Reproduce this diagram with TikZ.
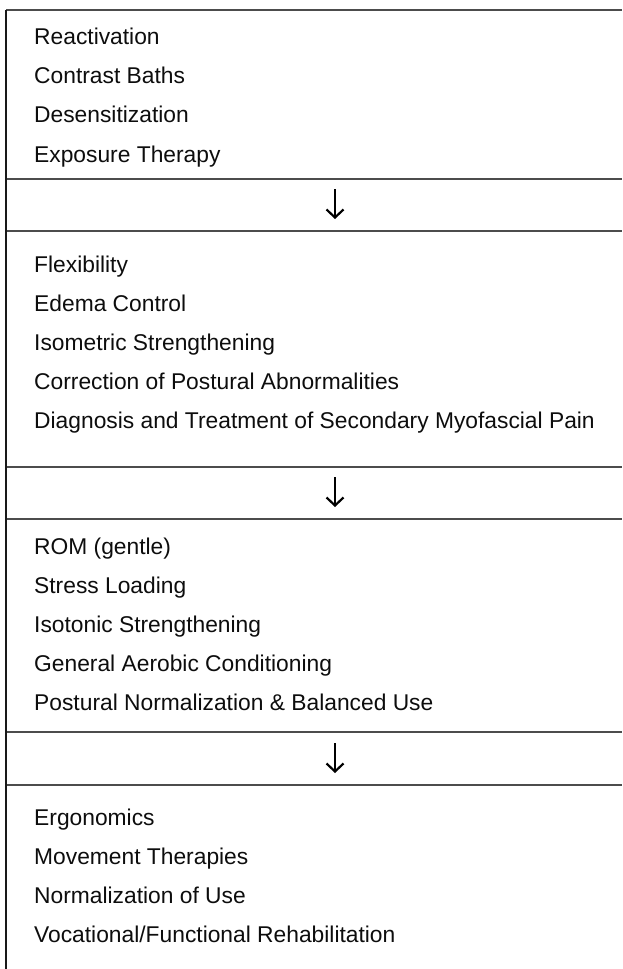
\documentclass[tikz,border=0pt]{standalone}
\usepackage{fontspec}
\setmainfont{Liberation Sans}
\usetikzlibrary{arrows.meta}
\tikzset{
  item/.style={anchor=base west,inner sep=0pt,font=\fontsize{22.8}{27}\selectfont,text=black!95},
  rule/.style={draw=black!70,line width=1.6pt},
  edge/.style={draw=black!90,line width=1.6pt},
  stagearrow/.style={draw=black,line width=2.2pt,-{Straight Barb[length=8pt,width=17pt,line width=2.2pt]}},
}
\begin{document}
\begin{tikzpicture}[x=1pt,y=1pt,yscale=-1]
        \useasboundingbox (0,0) rectangle (622,969);
        
        %Straight Lines: rules across the stages
        \foreach \y in {10,179,231,467,519,732,785}
          \draw[rule] (6,\y) -- (622,\y);
        %Straight Lines: left edge
        \draw[edge] (6,10) -- (6,969);
        
        % Text Node: stage 1
        \node[item] (react)    at (34,44)  {Reactivation};
        \node[item] (contrast) at (34,83)  {Contrast Baths};
        \node[item] (desens)   at (34,122) {Desensitization};
        \node[item] (exposure) at (34,162) {Exposure Therapy};
        
        % Text Node: stage 2
        \node[item] (flex)     at (34,272) {Flexibility};
        \node[item] (edema)    at (34,311) {Edema Control};
        \node[item] (isomet)   at (34,350) {Isometric Strengthening};
        \node[item] (postcorr) at (34,389) {Correction of Postural Abnormalities};
        \node[item] (myofasc)  at (34,428) {Diagnosis and Treatment of Secondary Myofascial Pain};
        
        % Text Node: stage 3
        \node[item] (rom)      at (34,554) {ROM (gentle)};
        \node[item] (stress)   at (34,593) {Stress Loading};
        \node[item] (isoton)   at (34,632) {Isotonic Strengthening};
        \node[item] (aerobic)  at (34,671) {General Aerobic Conditioning};
        \node[item] (postnorm) at (34,710) {Postural Normalization \& Balanced Use};
        
        % Text Node: stage 4
        \node[item] (ergo)     at (34,825) {Ergonomics};
        \node[item] (movement) at (34,864) {Movement Therapies};
        \node[item] (usenorm)  at (34,903) {Normalization of Use};
        \node[item] (vocat)    at (34,942) {Vocational/Functional Rehabilitation};
        
        %Arrows between the stages
        \coordinate (arrA) at (335,189);
        \coordinate (arrAend) at (335,219);
        \coordinate (arrB) at (335,477);
        \coordinate (arrBend) at (335,507);
        \coordinate (arrC) at (335,743);
        \coordinate (arrCend) at (335,773);
        \draw[stagearrow] (arrA) -- (arrAend);
        \draw[stagearrow] (arrB) -- (arrBend);
        \draw[stagearrow] (arrC) -- (arrCend);
        
\end{tikzpicture}
\end{document}
